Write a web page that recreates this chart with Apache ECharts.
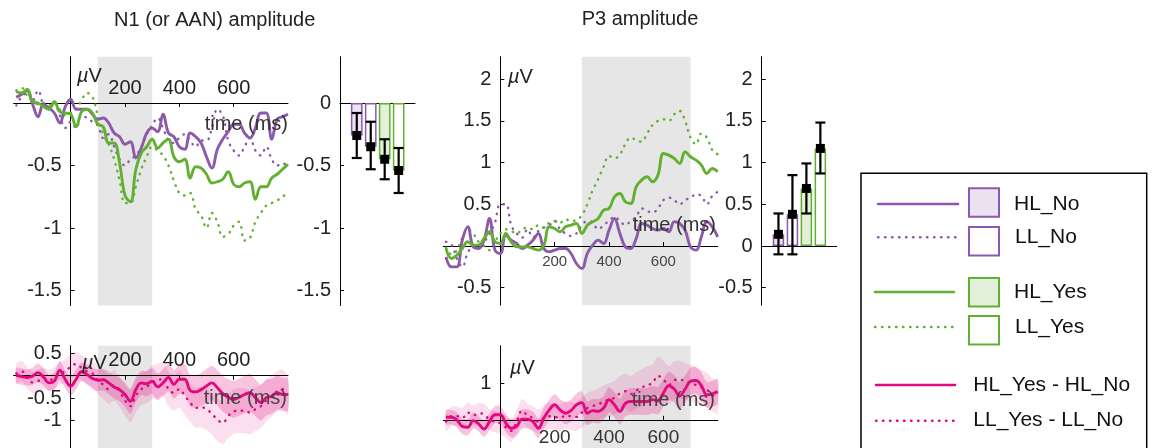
<!DOCTYPE html>
<html>
<head>
<meta charset="utf-8">
<title>N1 / P3 amplitude</title>
<script src="https://cdn.jsdelivr.net/npm/echarts@6/dist/echarts.min.js"></script>
<style>
  html, body { margin: 0; padding: 0; background: #fff; }
  #chart { width: 1153px; height: 448px; }
</style>
</head>
<body>
<div id="chart"></div>
<script>
// time axis (ms), shared by every waveform
const times = [-200, -180, -160, -140, -120, -100, -80, -60, -40, -20, 0, 20, 40, 60, 80, 100, 120, 140, 160, 180, 200, 220, 240, 260, 280, 300, 320, 340, 360, 380, 400, 420, 440, 460, 480, 500, 520, 540, 560, 580, 600, 620, 640, 660, 680, 700, 720, 740, 760, 780, 800];

// N1 waveforms (µV)
const n1HLNo = [0.045, 0.07, 0.10, -0.01, -0.11, -0.01, -0.04, -0.08, -0.16, -0.03, 0.03, -0.05, -0.05, -0.05, -0.09, -0.13, -0.12, -0.16, -0.24, -0.27, -0.33, -0.31, -0.44, -0.36, -0.24, -0.20, -0.23, -0.09, -0.24, -0.27, -0.35, -0.37, -0.24, -0.27, -0.32, -0.43, -0.52, -0.37, -0.29, -0.23, -0.17, -0.17, -0.24, -0.28, -0.20, -0.08, -0.08, -0.29, -0.13, -0.11, -0.09];
const n1LLNo = [-0.02, 0.05, 0.08, 0.02, 0.10, -0.02, -0.05, 0.0, -0.10, -0.20, -0.15, -0.20, -0.10, -0.12, -0.15, -0.18, -0.28, -0.25, -0.35, -0.45, -0.50, -0.45, -0.42, -0.35, -0.25, -0.18, -0.12, -0.20, -0.30, -0.32, -0.28, -0.25, -0.30, -0.35, -0.30, -0.30, -0.20, -0.05, -0.10, -0.30, -0.38, -0.42, -0.35, -0.28, -0.38, -0.42, -0.35, -0.45, -0.50, -0.48, -0.52];
const n1HLYes = [0.09, 0.08, 0.11, 0.01, 0.0, -0.03, -0.05, 0.01, -0.07, -0.08, -0.09, -0.19, -0.07, -0.05, -0.08, -0.17, -0.19, -0.32, -0.32, -0.48, -0.74, -0.79, -0.53, -0.40, -0.35, -0.29, -0.36, -0.32, -0.29, -0.43, -0.47, -0.45, -0.60, -0.51, -0.52, -0.57, -0.64, -0.63, -0.61, -0.55, -0.65, -0.67, -0.64, -0.63, -0.77, -0.67, -0.67, -0.60, -0.57, -0.53, -0.49];
const n1LLYes = [0.10, 0.12, 0.06, 0.02, -0.01, 0.0, -0.02, 0.0, -0.05, -0.10, -0.08, -0.05, 0.02, 0.08, 0.05, -0.10, -0.25, -0.33, -0.45, -0.62, -0.80, -0.80, -0.67, -0.53, -0.43, -0.35, -0.38, -0.42, -0.50, -0.62, -0.72, -0.74, -0.72, -0.85, -0.90, -1.00, -0.88, -0.95, -1.07, -1.05, -0.98, -0.95, -1.10, -1.08, -0.95, -0.88, -0.82, -0.80, -0.78, -0.75, -0.72];

// P3 waveforms (µV)
const p3HLNo = [-0.13, -0.25, -0.25, 0.07, 0.23, -0.01, -0.03, 0.07, 0.33, -0.05, -0.09, 0.13, 0.07, 0.03, -0.03, 0.01, 0.07, 0.15, -0.03, -0.07, -0.05, -0.03, -0.03, -0.09, -0.21, -0.27, -0.09, 0.01, 0.07, 0.03, 0.19, 0.33, 0.15, -0.01, -0.03, 0.09, 0.27, 0.25, 0.21, 0.19, 0.21, 0.17, 0.29, 0.27, 0.19, -0.01, -0.05, 0.11, 0.29, 0.23, 0.11];
const p3LLNo = [0.05, 0.02, -0.15, -0.25, -0.08, 0.0, 0.02, 0.05, 0.15, 0.28, 0.50, 0.50, 0.25, 0.15, 0.10, 0.20, 0.10, 0.18, 0.22, 0.25, 0.30, 0.20, 0.15, 0.12, 0.15, 0.25, 0.30, 0.28, 0.20, 0.25, 0.30, 0.35, 0.30, 0.25, 0.30, 0.35, 0.45, 0.42, 0.40, 0.45, 0.55, 0.58, 0.55, 0.50, 0.55, 0.58, 0.62, 0.60, 0.50, 0.60, 0.65];
const p3HLYes = [-0.03, -0.15, -0.11, -0.03, 0.05, 0.01, 0.01, 0.09, 0.17, 0.05, 0.03, 0.15, 0.05, -0.01, -0.01, -0.01, -0.03, -0.05, 0.01, 0.23, 0.21, 0.17, 0.23, 0.25, 0.27, 0.15, 0.25, 0.29, 0.33, 0.43, 0.45, 0.59, 0.63, 0.53, 0.51, 0.71, 0.79, 0.83, 0.77, 0.85, 1.11, 1.09, 1.05, 0.99, 1.13, 1.07, 1.03, 0.97, 0.87, 0.93, 0.89];
const p3LLYes = [-0.02, -0.10, -0.05, 0.10, 0.20, 0.15, 0.05, 0.0, -0.05, 0.05, 0.15, 0.20, 0.18, 0.15, 0.20, 0.22, 0.20, 0.25, 0.22, 0.28, 0.30, 0.28, 0.32, 0.30, 0.31, 0.37, 0.50, 0.67, 0.80, 0.95, 1.08, 1.05, 1.10, 1.22, 1.30, 1.27, 1.25, 1.35, 1.45, 1.50, 1.52, 1.50, 1.58, 1.62, 1.50, 1.30, 1.22, 1.35, 1.30, 1.15, 1.10];

// difference waves (Yes - No) and their standard errors
const n1DiffHL = [0.01, -0.02, -0.04, -0.01, 0.07, -0.03, -0.16, -0.12, 0.12, -0.08, -0.23, -0.08, 0.09, 0.03, -0.06, -0.10, -0.09, -0.16, -0.25, -0.31, -0.42, -0.57, -0.31, -0.16, -0.18, -0.12, -0.25, -0.16, -0.04, -0.19, -0.08, -0.08, -0.33, -0.36, -0.31, -0.23, -0.16, -0.27, -0.40, -0.48, -0.53, -0.48, -0.42, -0.38, -0.49, -0.60, -0.49, -0.46, -0.38, -0.42, -0.42];
const n1DiffLL = [0.05, 0.10, -0.05, -0.15, -0.12, -0.05, -0.10, -0.05, 0.05, 0.10, 0.20, 0.26, 0.18, 0.10, 0.05, -0.10, -0.20, -0.30, -0.22, -0.35, -0.55, -0.68, -0.45, -0.30, -0.25, -0.15, -0.12, -0.05, -0.30, -0.38, -0.30, -0.45, -0.60, -0.72, -0.70, -0.75, -0.85, -0.98, -1.05, -0.90, -0.80, -0.78, -0.78, -0.82, -0.75, -0.68, -0.55, -0.45, -0.35, -0.30, -0.45];
const n1SemHL = [0.17, 0.18, 0.18, 0.19, 0.20, 0.19, 0.18, 0.20, 0.21, 0.20, 0.21, 0.22, 0.21, 0.22, 0.23, 0.24, 0.24, 0.25, 0.26, 0.26, 0.27, 0.28, 0.28, 0.27, 0.28, 0.29, 0.30, 0.30, 0.31, 0.32, 0.33, 0.34, 0.35, 0.36, 0.37, 0.38, 0.38, 0.39, 0.40, 0.40, 0.41, 0.41, 0.42, 0.42, 0.41, 0.40, 0.40, 0.39, 0.38, 0.37, 0.36];
const n1SemLL = [0.22, 0.23, 0.24, 0.24, 0.25, 0.24, 0.23, 0.24, 0.25, 0.26, 0.27, 0.28, 0.28, 0.29, 0.30, 0.31, 0.32, 0.33, 0.34, 0.34, 0.35, 0.36, 0.36, 0.35, 0.36, 0.37, 0.38, 0.38, 0.39, 0.40, 0.41, 0.42, 0.43, 0.44, 0.45, 0.46, 0.47, 0.48, 0.48, 0.49, 0.50, 0.50, 0.50, 0.49, 0.48, 0.48, 0.47, 0.46, 0.45, 0.44, 0.43];
const p3DiffHL = [0.07, 0.07, 0.0, -0.18, -0.20, -0.02, -0.11, -0.25, -0.05, 0.14, 0.14, -0.09, -0.23, -0.18, 0.02, 0.02, -0.05, -0.23, 0.05, 0.27, 0.41, 0.27, 0.18, 0.25, 0.41, 0.47, 0.18, 0.25, 0.23, 0.32, 0.55, 0.41, 0.23, 0.45, 0.50, 0.50, 0.50, 0.50, 0.55, 0.52, 0.73, 0.93, 0.84, 0.65, 0.84, 1.05, 1.07, 0.93, 0.68, 0.71, 0.77];
const p3DiffLL = [-0.05, 0.10, 0.10, 0.05, 0.20, 0.12, 0.18, 0.15, 0.0, -0.05, -0.10, -0.20, -0.30, -0.05, 0.25, 0.12, 0.05, -0.05, 0.05, 0.10, 0.08, 0.05, 0.12, 0.10, 0.08, 0.20, 0.32, 0.38, 0.42, 0.50, 0.55, 0.60, 0.72, 0.78, 0.70, 0.80, 0.88, 0.95, 1.00, 1.20, 1.10, 0.95, 1.08, 1.10, 1.05, 1.00, 0.95, 0.88, 0.82, 0.68, 0.62];
const p3SemHL = [0.20, 0.20, 0.21, 0.21, 0.22, 0.22, 0.21, 0.22, 0.23, 0.23, 0.24, 0.24, 0.25, 0.25, 0.26, 0.26, 0.27, 0.27, 0.28, 0.28, 0.29, 0.29, 0.30, 0.30, 0.31, 0.31, 0.32, 0.32, 0.33, 0.33, 0.34, 0.34, 0.35, 0.35, 0.36, 0.36, 0.36, 0.37, 0.37, 0.37, 0.38, 0.38, 0.38, 0.38, 0.37, 0.37, 0.36, 0.36, 0.35, 0.35, 0.34];
const p3SemLL = [0.25, 0.26, 0.26, 0.27, 0.27, 0.28, 0.28, 0.28, 0.29, 0.29, 0.30, 0.30, 0.31, 0.31, 0.32, 0.32, 0.33, 0.33, 0.34, 0.35, 0.36, 0.36, 0.37, 0.38, 0.39, 0.40, 0.41, 0.42, 0.43, 0.44, 0.45, 0.46, 0.47, 0.48, 0.49, 0.50, 0.50, 0.51, 0.51, 0.52, 0.52, 0.52, 0.51, 0.51, 0.50, 0.50, 0.49, 0.48, 0.47, 0.46, 0.45];

// mean amplitude per condition, with error bar limits
const barConds = ['HL_No', 'LL_No', 'HL_Yes', 'LL_Yes'];
const n1BarMean = [-0.26, -0.35, -0.45, -0.54];
const n1BarLow = [-0.44, -0.53, -0.61, -0.72];
const n1BarHigh = [-0.08, -0.15, -0.29, -0.36];
const p3BarMean = [0.14, 0.38, 0.69, 1.17];
const p3BarLow = [-0.10, -0.10, 0.39, 0.87];
const p3BarHigh = [0.39, 0.85, 0.99, 1.48];

// tick labels
const timeTicks = [200, 400, 600];
const n1WaveTicks = [-1.5, -1, -0.5];
const n1BarTicks = [-1.5, -1, -0.5, 0];
const p3WaveTicks = [-0.5, 0.5, 1, 1.5, 2];
const p3BarTicks = [-0.5, 0, 0.5, 1, 1.5, 2];
const n1DiffTicks = [-1, -0.5, 0.5];
const p3DiffTicks = [1];

const FONT = '"Liberation Sans", Arial, sans-serif';
const PURPLE = '#8c5aaa';
const GREEN = '#62b031';
const PINK = '#e2097e';
const PURPLE_FILL = '#ece2f1';
const GREEN_FILL = '#e3f1da';
const SHADE = '#e6e6e6';
const DOT = [0.5, 6.5];
const condColor = [PURPLE, PURPLE, GREEN, GREEN];
const condFill = [PURPLE_FILL, '#ffffff', GREEN_FILL, '#ffffff'];

// panel geometry: grid box plus axis ranges
const T_MIN = -210, T_MAX = 800;
const panels = [
  { left: 13.6, top: 56.75, width: 274.4, height: 248.75, yMin: -1.62, yMax: 0.37 },   // N1 waves
  { left: 340, top: 56.75, width: 75, height: 248.75, yMin: -1.62, yMax: 0.37 },       // N1 bars
  { left: 443.3, top: 56.7, width: 274.4, height: 248.5, yMin: -0.71, yMax: 2.27 },    // P3 waves
  { left: 761.7, top: 56.7, width: 75, height: 248.5, yMin: -0.71, yMax: 2.27 },       // P3 bars
  { left: 13.6, top: 345.7, width: 274.4, height: 142, yMin: -2.5, yMax: 0.67 },       // N1 difference
  { left: 443.3, top: 345.7, width: 274.4, height: 129.2, yMin: -1.5, yMax: 2.02 },    // P3 difference
];

const pairs = (vals) => times.map((t, i) => [t, vals[i]]);

const chart = echarts.init(document.getElementById('chart'));

// shift an axis (with its labels) from the grid edge onto the other axis' zero
function zeroShiftY(p) {
  return -((0 - T_MIN) / (T_MAX - T_MIN)) * p.width;
}
function zeroShiftX(p, position) {
  const frac = position === 'top' ? p.yMax / (p.yMax - p.yMin) : -p.yMin / (p.yMax - p.yMin);
  return -frac * p.height;
}

function timeAxis(idx, position, fontSize, color, margin) {
  return {
    type: 'value', gridIndex: idx, min: T_MIN, max: T_MAX, position, z: 3,
    offset: zeroShiftX(panels[idx], position),
    axisLine: { show: true, onZero: false, lineStyle: { color: '#000', width: 1 } },
    axisTick: { show: true, inside: true, length: 4, customValues: timeTicks, lineStyle: { color: '#000' } },
    axisLabel: { customValues: timeTicks, fontSize, color, fontFamily: FONT, margin },
    splitLine: { show: false },
  };
}

function slotAxis(idx) {
  return {
    type: 'value', gridIndex: idx, min: -0.2, max: 5.17, z: 3,
    axisLine: { show: true, onZero: true, lineStyle: { color: '#000', width: 1 } },
    axisTick: { show: false }, axisLabel: { show: false }, splitLine: { show: false },
  };
}

function ampAxis(idx, ticks, atZero) {
  const p = panels[idx];
  return {
    type: 'value', gridIndex: idx, min: p.yMin, max: p.yMax, z: 3, position: 'left',
    offset: atZero ? zeroShiftY(p) : 0,
    axisLine: { show: true, onZero: false, lineStyle: { color: '#000', width: 1 } },
    axisTick: { show: true, inside: true, length: 4, customValues: ticks, lineStyle: { color: '#000' } },
    axisLabel: { customValues: ticks, fontSize: 20, color: '#222', fontFamily: FONT, margin: 9 },
    splitLine: { show: false },
  };
}

function waveLine(vals, color, dotted, idx) {
  return {
    type: 'line', xAxisIndex: idx, yAxisIndex: idx, data: pairs(vals),
    smooth: 0.4, symbol: 'none', z: 4, silent: true,
    lineStyle: dotted
      ? { color, width: 2.4, type: DOT, cap: 'round' }
      : { color, width: 2.9 },
  };
}

function shade(idx, from, to) {
  return {
    type: 'line', xAxisIndex: idx, yAxisIndex: idx, data: [], z: 1, silent: true,
    markArea: { silent: true, itemStyle: { color: SHADE }, data: [[{ xAxis: from }, { xAxis: to }]] },
  };
}

// mean +/- sem as one closed polygon, drawn once from all data items
function band(idx, mean, sem, color) {
  return {
    type: 'custom', xAxisIndex: idx, yAxisIndex: idx, z: 2, silent: true, clip: true,
    encode: { x: 0, y: [1, 2] },
    data: times.map((t, i) => [t, mean[i] - sem[i], mean[i] + sem[i]]),
    renderItem(params, api) {
      if (params.dataIndex !== 0) return null;
      const n = times.length;
      const upper = [];
      const lower = [];
      for (let i = 0; i < n; i++) {
        upper.push(api.coord([api.value(0, i), api.value(2, i)]));
        lower.push(api.coord([api.value(0, i), api.value(1, i)]));
      }
      return {
        type: 'polygon',
        shape: { points: upper.concat(lower.reverse()), smooth: 0.25 },
        style: { fill: color, stroke: null },
      };
    },
  };
}

function renderErrorBar(params, api) {
  const x = api.value(0);
  const lo = api.coord([x, api.value(1)]);
  const hi = api.coord([x, api.value(2)]);
  const cap = 5;
  const style = { stroke: '#000', lineWidth: 2.2, fill: null };
  return {
    type: 'group',
    children: [
      { type: 'line', shape: { x1: lo[0], y1: lo[1], x2: hi[0], y2: hi[1] }, style },
      { type: 'line', shape: { x1: lo[0] - cap, y1: lo[1], x2: lo[0] + cap, y2: lo[1] }, style },
      { type: 'line', shape: { x1: hi[0] - cap, y1: hi[1], x2: hi[0] + cap, y2: hi[1] }, style },
    ],
  };
}

function condBars(idx, means, lows, highs, barWidth) {
  return [
    {
      type: 'bar', xAxisIndex: idx, yAxisIndex: idx, barWidth, z: 4, silent: true,
      data: barConds.map((c, i) => ({
        name: c,
        value: [i + 1, means[i]],
        itemStyle: { color: condFill[i], borderColor: condColor[i], borderWidth: 1.5 },
      })),
    },
    {
      type: 'custom', xAxisIndex: idx, yAxisIndex: idx, z: 5, silent: true,
      renderItem: renderErrorBar,
      encode: { x: 0, y: [1, 2] },
      data: barConds.map((c, i) => [i + 1, lows[i], highs[i]]),
    },
    {
      type: 'scatter', xAxisIndex: idx, yAxisIndex: idx, z: 6, silent: true,
      symbol: 'rect', symbolSize: 9, itemStyle: { color: '#000', opacity: 1 },
      data: barConds.map((c, i) => [i + 1, means[i]]),
    },
  ];
}

function text(x, y, str, align, extra) {
  return {
    type: 'text', x, y, z: 10, silent: true,
    style: Object.assign({
      text: str, font: '20px ' + FONT, fill: '#222',
      align: align || 'left', verticalAlign: 'middle',
    }, extra || {}),
  };
}

function muV(x, y) {
  return text(x, y, '{i|\u00b5}V', 'left', { rich: { i: { fontStyle: 'italic', font: 'italic 20px ' + FONT, fill: '#222' } } });
}

function legendLine(x1, x2, y, color, dotted) {
  return {
    type: 'line', silent: true, z: 10,
    shape: { x1, y1: y, x2, y2: y },
    style: { stroke: color, lineWidth: dotted ? 2.4 : 2.6, lineDash: dotted ? DOT : null, lineCap: 'round' },
  };
}

function legendBox(y, color, fill) {
  return {
    type: 'rect', silent: true, z: 10,
    shape: { x: 969, y, width: 30, height: 28.5 },
    style: { fill, stroke: color, lineWidth: 2 },
  };
}

const legendFont = '21px ' + FONT;
const HL_BAND = 'rgba(226,9,126,0.24)';
const LL_BAND = 'rgba(226,9,126,0.13)';

const option = {
  animation: false,
  backgroundColor: '#ffffff',
  grid: panels.map((p) => ({ left: p.left, top: p.top, width: p.width, height: p.height, outerBoundsMode: 'none' })),
  xAxis: [
    timeAxis(0, 'top', 20, '#222', 5),
    slotAxis(1),
    timeAxis(2, 'bottom', 15, '#444', 8),
    slotAxis(3),
    timeAxis(4, 'top', 20, '#222', 5),
    timeAxis(5, 'bottom', 19, '#333', 8),
  ],
  yAxis: [
    ampAxis(0, n1WaveTicks, true),
    ampAxis(1, n1BarTicks, false),
    ampAxis(2, p3WaveTicks, true),
    ampAxis(3, p3BarTicks, false),
    ampAxis(4, n1DiffTicks, true),
    ampAxis(5, p3DiffTicks, true),
  ],
  graphic: [
    text(214.7, 20, 'N1 (or AAN) amplitude', 'center'),
    text(640, 19.5, 'P3 amplitude', 'center'),
    muV(77, 76),
    muV(508, 77),
    muV(82, 363),
    muV(510, 368),
    text(288, 124, 'time (ms)', 'right', { fill: '#333' }),
    text(716, 225, 'time (ms)', 'right', { fill: '#333' }),
    text(287, 398, 'time (ms)', 'right', { fill: '#444' }),
    text(715, 400, 'time (ms)', 'right', { fill: '#444' }),
    // legend
    {
      type: 'rect', silent: true, z: 9,
      shape: { x: 861, y: 173.3, width: 285.7, height: 300 },
      style: { fill: '#fff', stroke: '#000', lineWidth: 1.5 },
    },
    legendLine(878, 958, 204, PURPLE, false),
    legendBox(188.3, PURPLE, PURPLE_FILL),
    text(1014, 204, 'HL_No', 'left', { font: legendFont, fill: '#111' }),
    legendLine(878, 958, 237.3, PURPLE, true),
    legendBox(227, PURPLE, '#fff'),
    text(1015, 237.5, 'LL_No', 'left', { font: legendFont, fill: '#111' }),
    legendLine(875, 954, 292, GREEN, false),
    legendBox(278, GREEN, GREEN_FILL),
    text(1014, 292, 'HL_Yes', 'left', { font: legendFont, fill: '#111' }),
    legendLine(875, 954, 327, GREEN, true),
    legendBox(316, GREEN, '#fff'),
    text(1015, 327.5, 'LL_Yes', 'left', { font: legendFont, fill: '#111' }),
    legendLine(876, 955, 385, PINK, false),
    text(973.3, 385, 'HL_Yes - HL_No', 'left', { font: legendFont, fill: '#111' }),
    legendLine(876, 955, 420.7, PINK, true),
    text(973.3, 420.7, 'LL_Yes - LL_No', 'left', { font: legendFont, fill: '#111' }),
  ],
  series: [
    // N1 waveforms
    shade(0, 100, 300),
    waveLine(n1LLNo, PURPLE, true, 0),
    waveLine(n1LLYes, GREEN, true, 0),
    waveLine(n1HLNo, PURPLE, false, 0),
    waveLine(n1HLYes, GREEN, false, 0),
    // N1 bars
    ...condBars(1, n1BarMean, n1BarLow, n1BarHigh, 11.7),
    // P3 waveforms
    shade(2, 300, 700),
    waveLine(p3LLNo, PURPLE, true, 2),
    waveLine(p3LLYes, GREEN, true, 2),
    waveLine(p3HLNo, PURPLE, false, 2),
    waveLine(p3HLYes, GREEN, false, 2),
    // P3 bars
    ...condBars(3, p3BarMean, p3BarLow, p3BarHigh, 11.5),
    // N1 difference
    shade(4, 100, 300),
    band(4, n1DiffLL, n1SemLL, LL_BAND),
    band(4, n1DiffHL, n1SemHL, HL_BAND),
    waveLine(n1DiffLL, PINK, true, 4),
    waveLine(n1DiffHL, PINK, false, 4),
    // P3 difference
    shade(5, 300, 700),
    band(5, p3DiffLL, p3SemLL, LL_BAND),
    band(5, p3DiffHL, p3SemHL, HL_BAND),
    waveLine(p3DiffLL, PINK, true, 5),
    waveLine(p3DiffHL, PINK, false, 5),
  ],
};

chart.setOption(option);
window.addEventListener('resize', () => chart.resize());
</script>
</body>
</html>
